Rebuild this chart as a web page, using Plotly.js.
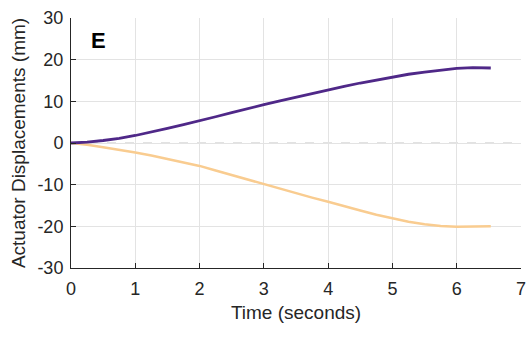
<!DOCTYPE html>
<html>
<head>
<meta charset="utf-8">
<script src="https://cdn.plot.ly/plotly-3.0.1.min.js"></script>
<style>
  html, body { margin: 0; padding: 0; background: #fff; }
  #chart { width: 532px; height: 338px; }
</style>
</head>
<body>
<div id="chart"></div>
<script>
// Time samples (s)
const time = [0, 0.25, 0.5, 0.75, 1, 1.25, 1.5, 1.75, 2, 2.25, 2.5, 2.75, 3, 3.25, 3.5, 3.75,
              4, 4.25, 4.5, 4.75, 5, 5.25, 5.5, 5.75, 6, 6.25, 6.53];
// Actuator 1 displacement (mm)
const actuatorA = [0, 0.2, 0.6, 1.1, 1.8, 2.6, 3.5, 4.4, 5.3, 6.3, 7.3, 8.3, 9.2, 10.1, 11.0, 11.9,
                   12.8, 13.6, 14.4, 15.1, 15.8, 16.5, 17.0, 17.5, 17.9, 18.1, 18.0];
// Actuator 2 displacement (mm)
const actuatorB = [0, -0.4, -1.0, -1.6, -2.3, -3.0, -3.8, -4.6, -5.5, -6.6, -7.7, -8.8, -9.9, -11.0, -12.0, -13.1,
                   -14.1, -15.2, -16.2, -17.2, -18.1, -18.9, -19.5, -19.9, -20.1, -20.1, -20.0];

const xTicks = [0, 1, 2, 3, 4, 5, 6, 7];
const yTicks = [-30, -20, -10, 0, 10, 20, 30];

const textColor = '#262626';
const font = 'Liberation Sans, Arial, sans-serif';

const traces = [
  { x: time, y: actuatorB, mode: 'lines', line: { color: '#f9cc90', width: 2.5 }, hoverinfo: 'skip' },
  { x: time, y: actuatorA, mode: 'lines', line: { color: '#4f2888', width: 2.8 }, hoverinfo: 'skip' }
];

const layout = {
  width: 532, height: 338,
  margin: { l: 71, r: 11, t: 18, b: 70 },
  paper_bgcolor: '#fff', plot_bgcolor: '#fff',
  showlegend: false,
  font: { family: font, color: textColor, size: 18 },
  xaxis: {
    range: [0, 7], tickvals: xTicks, ticktext: xTicks.map(String),
    showgrid: true, gridcolor: '#e3e3e3', gridwidth: 1,
    zeroline: false, showline: true, linecolor: textColor, linewidth: 1,
    ticks: 'inside', ticklen: 5, tickcolor: textColor,
    ticklabelstandoff: 4,
    tickfont: { size: 18, color: textColor },
    title: { text: 'Time (seconds)', font: { size: 19, color: textColor }, standoff: 8 }
  },
  yaxis: {
    range: [-30, 30], tickvals: yTicks, ticktext: yTicks.map(String),
    showgrid: true, gridcolor: '#e3e3e3', gridwidth: 1,
    zeroline: false, showline: true, linecolor: textColor, linewidth: 1,
    ticks: 'inside', ticklen: 5, tickcolor: textColor,
    ticklabelstandoff: 3,
    tickfont: { size: 18, color: textColor },
    title: { text: 'Actuator Displacements (mm)', font: { size: 19, color: textColor }, standoff: 6 }
  },
  shapes: [
    { type: 'line', xref: 'x', yref: 'y', x0: 0, x1: 7, y0: 0, y1: 0,
      line: { color: '#c4c4c4', width: 1, dash: 'dash' }, layer: 'below' }
  ],
  annotations: [
    { text: '<b>E</b>', xref: 'paper', yref: 'paper', x: 0.062, y: 0.91,
      xanchor: 'center', yanchor: 'middle', showarrow: false,
      font: { size: 22, color: '#000', family: font } }
  ]
};

Plotly.newPlot('chart', traces, layout, { staticPlot: true, displayModeBar: false });
</script>
</body>
</html>
